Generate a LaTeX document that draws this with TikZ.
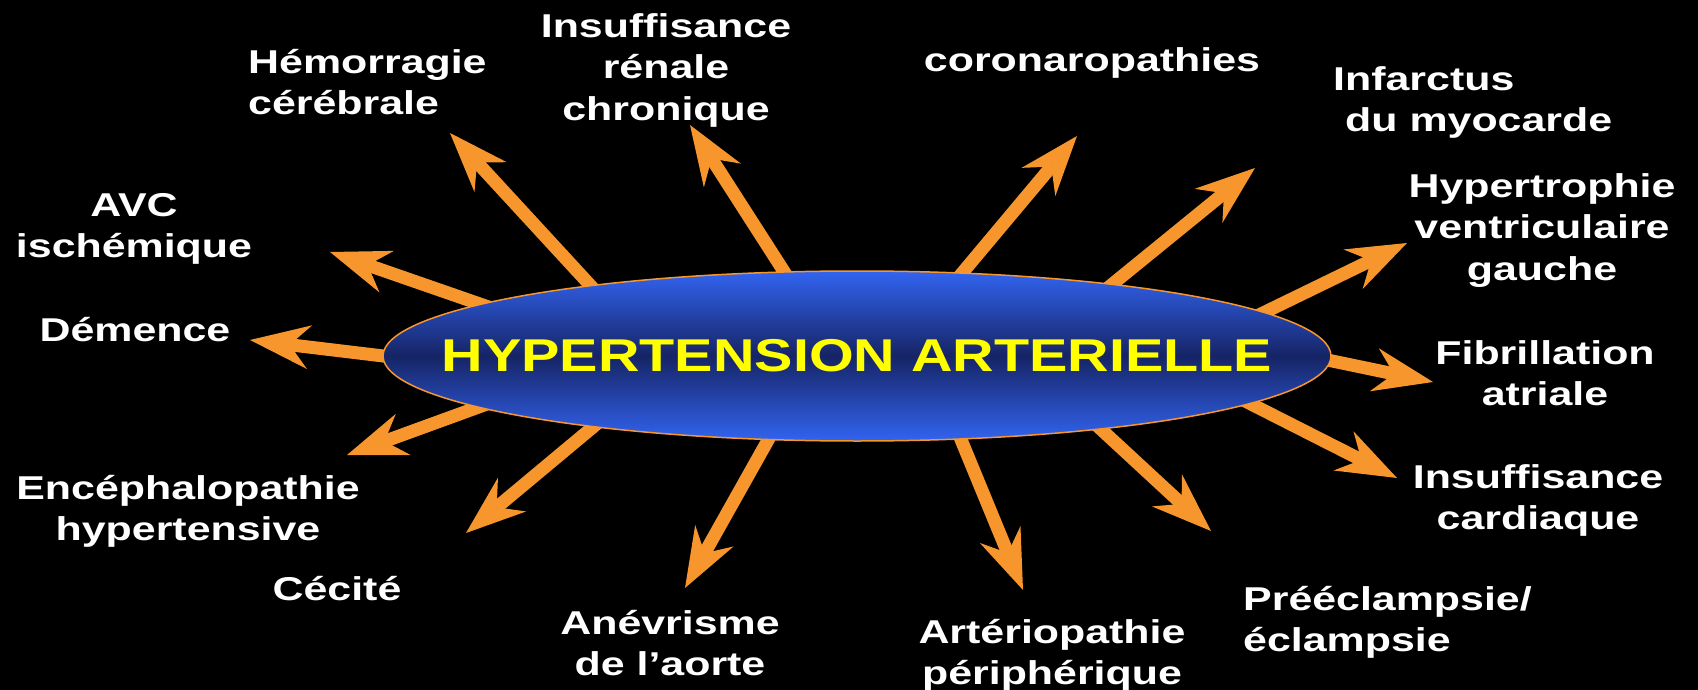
\documentclass[tikz,border=0pt]{standalone}
\usepackage{fontspec}
\newfontfamily\labfont{Liberation Sans}[FakeStretch=1.30]
\newfontfamily\titfont{Liberation Sans}[FakeStretch=1.25]
\usetikzlibrary{arrows.meta,shapes.geometric}
\definecolor{arr}{HTML}{F7962D}
\definecolor{ellblue}{HTML}{3264F0}
\definecolor{elldark}{HTML}{162466}
\definecolor{titleyellow}{HTML}{FFFF00}
\tikzset{
  lab/.style={text=white, font=\labfont\bfseries\fontsize{33}{41.5}\selectfont, inner sep=0pt, align=center, anchor=north},
  labl/.style={lab, align=left, anchor=north west},
  ray/.style={draw=arr, line width=13pt, shorten <=-20pt,
    -{Stealth[length=60pt,width=44pt,inset=20pt,line width=0pt]}},
}
\begin{document}
\begin{tikzpicture}[x=1pt,y=-1pt]
\useasboundingbox (0,0) rectangle (1698,690);
\fill[black] (0,0) rectangle (1698,690);

% labels
\node[labl] (hem) at (248,49) {Hémorragie\\cérébrale};
\node[lab] (irc) at (666,13) {Insuffisance\\rénale\\chronique};
\node[lab] (cor) at (1092,47) {coronaropathies};
\node[labl] (idm) at (1333,66) {Infarctus\\\hspace*{12pt}du myocarde};
\node[lab] (hvg) at (1542,173) {Hypertrophie\\ventriculaire\\gauche};
\node[lab] (fa) at (1545,340) {Fibrillation\\atriale};
\node[lab] (ic) at (1538,464) {Insuffisance\\cardiaque};
\node[labl] (pe) at (1243,586) {Prééclampsie/\\éclampsie};
\node[lab] (ap) at (1052,619) {Artériopathie\\périphérique};
\node[lab] (an) at (670,610) {Anévrisme\\de l’aorte};
\node[lab] (cec) at (337,576) {Cécité};
\node[lab] (enc) at (188,475) {Encéphalopathie\\hypertensive};
\node[lab] (dem) at (135,317) {Démence};
\node[lab] (avc) at (134,193) {AVC\\ischémique};

% arrow ends
\coordinate (b1) at (590,285);  \coordinate (t1) at (450,133);
\coordinate (b2) at (783,270);  \coordinate (t2) at (690,125);
\coordinate (b3) at (963,272);  \coordinate (t3) at (1077,136);
\coordinate (b4) at (1115,282); \coordinate (t4) at (1255,168);
\coordinate (b5) at (1263,313); \coordinate (t5) at (1407,243);
\coordinate (b6) at (1337,362); \coordinate (t6) at (1433,382);
\coordinate (b7) at (1253,405); \coordinate (t7) at (1397,478);
\coordinate (b8) at (1105,433); \coordinate (t8) at (1211,531);
\coordinate (b9) at (962,442);  \coordinate (t9) at (1023,590);
\coordinate (b10) at (767,442); \coordinate (t10) at (685,588);
\coordinate (b11) at (587,432); \coordinate (t11) at (466,533);
\coordinate (b12) at (476,408); \coordinate (t12) at (347,455);
\coordinate (b13) at (375,355); \coordinate (t13) at (250,340);
\coordinate (b14) at (477,303); \coordinate (t14) at (330,252);

\foreach \i in {1,...,14} { \draw[ray] (b\i) -- (t\i); }

% central ellipse
\node[ellipse, minimum width=948pt, minimum height=170pt, inner sep=0pt,
      draw=arr, line width=1.5pt,
      top color=ellblue, bottom color=ellblue, middle color=elldark,
      text=titleyellow, font=\titfont\bfseries\fontsize{46}{50}\selectfont]
      (hta) at (857,356) {\makebox[0pt]{HYPERTENSION ARTERIELLE}};
\end{tikzpicture}
\end{document}
